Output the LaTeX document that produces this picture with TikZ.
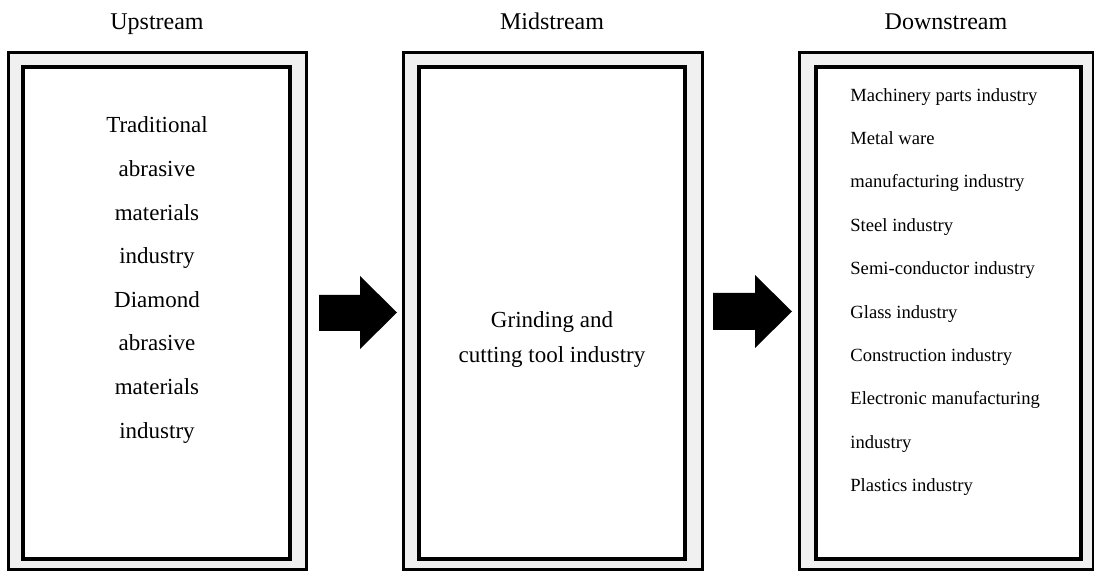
\documentclass[tikz,border=0pt]{standalone}
\usepackage{fontspec}
\setmainfont{Liberation Serif}
\definecolor{framegray}{HTML}{F0F0F0}
\tikzset{
  outerframe/.style={draw=black, line width=1.5pt, fill=framegray},
  innerframe/.style={draw=black, line width=2pt, fill=white},
  heading/.style={inner sep=0pt, anchor=base, font=\fontsize{12}{14}\selectfont},
  bigtext/.style={inner sep=0pt, align=center, font=\fontsize{11.5}{21.8}\selectfont},
  midtext/.style={inner sep=0pt, align=center, font=\fontsize{11.5}{17.5}\selectfont},
  smalltext/.style={inner sep=0pt, align=left, font=\fontsize{9.3}{21.7}\selectfont},
}
\begin{document}
\begin{tikzpicture}[x=0.5pt, y=-0.5pt]
	\useasboundingbox (0,0) rectangle (1094,572);
	% frames
	\draw[outerframe] (8,53) rectangle (306,570);
	\draw[innerframe] (23,67) rectangle (290,559);
	\draw[outerframe] (403,53) rectangle (702,570);
	\draw[innerframe] (419,67) rectangle (685,559);
	\draw[outerframe] (799,53) rectangle (1093,570);
	\draw[innerframe] (816,67) rectangle (1081,559);
	% headings
	\node[heading] (upname) at (157,30) {Upstream};
	\node[heading] (midname) at (552,30) {Midstream};
	\node[heading] (downname) at (946,30) {Downstream};
	% contents
	\node[bigtext] (uptext) at (157,280) {Traditional\\abrasive\\materials\\industry\\Diamond\\abrasive\\materials\\industry};
	\node[midtext] (midtext) at (552,340) {Grinding and\\cutting tool industry};
	\node[smalltext, anchor=west] (downtext) at (850,292) {Machinery parts industry\\Metal ware\\manufacturing industry\\Steel industry\\Semi-conductor industry\\Glass industry\\Construction industry\\Electronic manufacturing\\industry\\Plastics industry};
	% block arrows
	\fill (319,295) -- (360,295) -- (360,276) -- (397,312.5) -- (360,349) -- (360,331) -- (319,331) -- cycle;
	\fill (713,293) -- (755,293) -- (755,275) -- (792,311.5) -- (755,348) -- (755,330) -- (713,330) -- cycle;
\end{tikzpicture}
\end{document}
